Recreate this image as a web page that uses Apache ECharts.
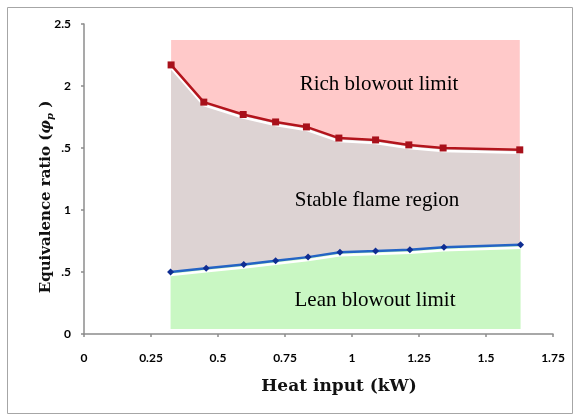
<!DOCTYPE html>
<html><head><meta charset="utf-8">
<script src="https://cdn.jsdelivr.net/npm/echarts@6/dist/echarts.min.js"></script>
<style>html,body{margin:0;padding:0;background:#fff}#c{width:575px;height:416px}</style>
</head><body><div id="c"></div>
<script>
// Heat input (kW) for each measured point
const heatRich = [0.325, 0.447, 0.594, 0.715, 0.830, 0.951, 1.088, 1.212, 1.340, 1.626];
const richLimit = [2.17, 1.87, 1.77, 1.71, 1.67, 1.58, 1.565, 1.525, 1.50, 1.485];
const heatLean = [0.323, 0.456, 0.596, 0.715, 0.836, 0.955, 1.088, 1.216, 1.343, 1.629];
const leanLimit = [0.50, 0.53, 0.56, 0.59, 0.62, 0.66, 0.67, 0.68, 0.70, 0.72];
const regionTop = 2.37;
const regionBottom = 0.04;
const xTickLabels = ['0', '0.25', '0.5', '0.75', '1', '1.25', '1.5', '1.75'];
const yTickLabels = ['0', '.5', '1', '.5', '2', '2.5'];

const chart = echarts.init(document.getElementById('c'));
const richPts = heatRich.map((x, i) => [x, richLimit[i]]);
const leanPts = heatLean.map((x, i) => [x, leanLimit[i]]);
const tickFont = {fontFamily: 'Lato', fontWeight: 'bold', fontSize: 12, color: '#000'};

chart.setOption({
  animation: false,
  backgroundColor: '#fff',
  grid: {left: 84, right: 22, top: 24, bottom: 82},
  xAxis: {
    type: 'value', min: 0, max: 1.75, interval: 0.25,
    splitLine: {show: false},
    axisLine: {show: true, lineStyle: {color: '#8c8c8c', width: 1.5}},
    axisTick: {show: true, length: 3, lineStyle: {color: '#8c8c8c', width: 1.5}},
    axisLabel: Object.assign({margin: 18, formatter: (v) => xTickLabels[Math.round(v / 0.25)]}, tickFont)
  },
  yAxis: {
    type: 'value', min: 0, max: 2.5, interval: 0.5,
    splitLine: {show: false},
    axisLine: {show: true, lineStyle: {color: '#8c8c8c', width: 1.5}},
    axisTick: {show: true, length: 3, lineStyle: {color: '#8c8c8c', width: 1.5}},
    axisLabel: Object.assign({margin: 13, formatter: (v) => yTickLabels[Math.round(v / 0.5)]}, tickFont)
  },
  series: [
    {
      type: 'line', data: richPts, symbol: 'none', z: 1,
      lineStyle: {width: 0},
      areaStyle: {color: '#ddd3d3', opacity: 1, origin: regionBottom},
      markArea: {
        silent: true,
        itemStyle: {color: '#ffc9c9', opacity: 1},
        data: [[{coord: [heatRich[0], regionBottom]}, {coord: [heatRich[heatRich.length - 1], regionTop]}]]
      }
    },
    {
      type: 'line', data: leanPts, symbol: 'none', z: 2,
      lineStyle: {width: 0},
      areaStyle: {color: '#c9f7c3', opacity: 1, origin: regionBottom}
    },
    {
      type: 'line', data: richPts, z: 5,
      symbol: 'rect', symbolSize: 7,
      lineStyle: {color: '#b3141c', width: 2.5, shadowColor: '#ffffff', shadowOffsetY: 3, shadowBlur: 0},
      itemStyle: {color: '#a8101a'}
    },
    {
      type: 'line', data: leanPts, z: 5,
      symbol: 'diamond', symbolSize: 7,
      lineStyle: {color: '#2464c4', width: 2.5, shadowColor: '#ffffff', shadowOffsetY: 3, shadowBlur: 0},
      itemStyle: {color: '#0f2d92'}
    }
  ],
  graphic: [
    {type: 'rect', z: 100, shape: {x: 7.5, y: 7.5, width: 565, height: 406},
      style: {fill: 'none', stroke: '#a6a6a6', lineWidth: 1}},
    {type: 'text', z: 100, x: 379, y: 84, style: {text: 'Rich blowout limit', font: '21px "Liberation Serif"', fill: '#000', align: 'center', verticalAlign: 'middle'}},
    {type: 'text', z: 100, x: 377, y: 200, style: {text: 'Stable flame region', font: '21px "Liberation Serif"', fill: '#000', align: 'center', verticalAlign: 'middle'}},
    {type: 'text', z: 100, x: 375, y: 300, style: {text: 'Lean blowout limit', font: '21px "Liberation Serif"', fill: '#000', align: 'center', verticalAlign: 'middle'}},
    {type: 'text', z: 100, x: 339, y: 387, style: {text: 'Heat input (kW)', font: 'bold 17px "DejaVu Serif"', fill: '#111', align: 'center', verticalAlign: 'middle'}},
    {type: 'text', z: 100, x: 46, y: 197, rotation: Math.PI / 2,
      style: {
        text: '{a|Equivalence ratio (}{b|φ}{c|p}{a| )}',
        align: 'center', verticalAlign: 'middle',
        rich: {
          a: {font: 'bold 15px "DejaVu Serif"', fill: '#111'},
          b: {font: 'bold italic 15px "DejaVu Serif"', fill: '#111'},
          c: {font: 'bold italic 10px "DejaVu Serif"', fill: '#111', padding: [8, 0, 0, 0]}
        }
      }}
  ]
});
</script></body></html>
